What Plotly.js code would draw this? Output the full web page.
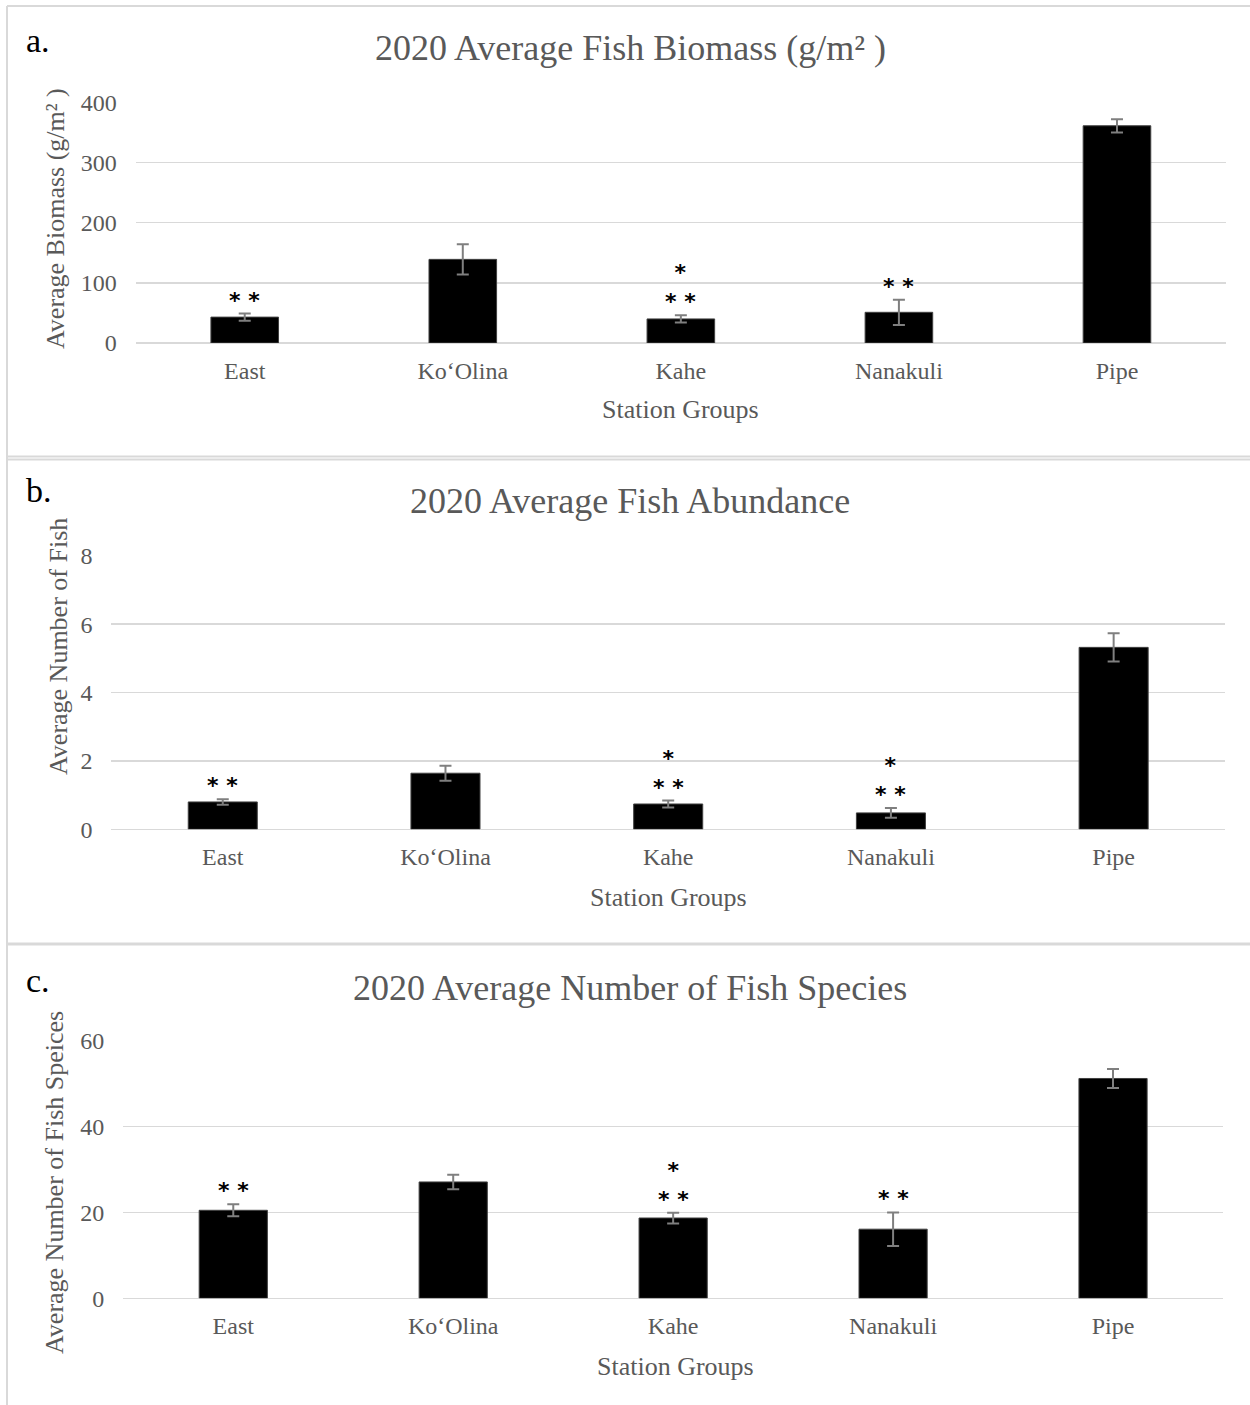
<!DOCTYPE html>
<html><head><meta charset="utf-8">
<script src="https://cdn.plot.ly/plotly-3.0.1.min.js"></script>
<style>html,body{margin:0;padding:0;background:#fff}#chart{width:1250px;height:1405px}</style>
</head><body><div id="chart"></div>
<script>
// ---- data ----
const categories = ['East', 'Ko‘Olina', 'Kahe', 'Nanakuli', 'Pipe'];

const biomassMean = [43, 139, 40, 51, 361];
const biomassErr  = [6, 25, 6, 21, 11];
const biomassSig  = ['* *', '', '*<br>* *', '* *', ''];

const abundanceMean = [0.80, 1.64, 0.74, 0.48, 5.32];
const abundanceErr  = [0.08, 0.22, 0.10, 0.145, 0.41];
const abundanceSig  = ['* *', '', '*<br>* *', '*<br>* *', ''];

const speciesMean = [20.5, 27.1, 18.7, 16.1, 51.2];
const speciesErr  = [1.4, 1.7, 1.25, 3.9, 2.2];
const speciesSig  = ['* *', '', '*<br>* *', '* *', ''];

const panelTitles = ['2020 Average Fish Biomass (g/m² )', '2020 Average Fish Abundance', '2020 Average Number of Fish Species'];
const panelLetters = ['a.', 'b.', 'c.'];
const yTitles = ['Average Biomass (g/m² )', 'Average Number of Fish', 'Average Number of Fish Speices'];
const xTitle = 'Station Groups';
const yTicks = [[0, 100, 200, 300, 400], [0, 2, 4, 6, 8], [0, 20, 40, 60]];

// ---- layout helpers ----
const W = 1250, H = 1405;
const px = v => v / W;
const py = v => 1 - v / H;
const SERIF = '"Liberation Serif", "Times New Roman", Times, serif';
const STAR_FONT = '"DejaVu Sans", sans-serif';
const GREY = '#595959';
const GRID = '#d9d9d9';

const panels = [
  {mean: biomassMean, err: biomassErr, sig: biomassSig,
   x0: 135.7, x1: 1226, yTop: 102.3, yBot: 343, title: [630, 48], letter: [38, 40], ytitle: [55, 219], xtitle: [680, 410]},
  {mean: abundanceMean, err: abundanceErr, sig: abundanceSig,
   x0: 111.4, x1: 1225, yTop: 555.7, yBot: 829.3, title: [630, 501], letter: [39, 490], ytitle: [58, 647], xtitle: [668, 897]},
  {mean: speciesMean, err: speciesErr, sig: speciesSig,
   x0: 123.3, x1: 1223, yTop: 1040.7, yBot: 1298.3, title: [630, 988], letter: [38, 980], ytitle: [54, 1183], xtitle: [675, 1366]}
];

const traces = [];
const layout = {
  width: W, height: H,
  margin: {l: 0, r: 0, t: 0, b: 0},
  paper_bgcolor: '#ffffff', plot_bgcolor: '#ffffff',
  showlegend: false,
  bargap: 0.69,
  font: {family: SERIF, color: GREY},
  annotations: [],
  shapes: []
};

panels.forEach((p, i) => {
  const sfx = i === 0 ? '' : String(i + 1);
  const xa = 'x' + sfx, ya = 'y' + sfx;
  traces.push({
    type: 'bar', x: categories, y: p.mean, xaxis: xa, yaxis: ya,
    marker: {color: '#000000', line: {color: '#404040', width: 1}},
    error_y: {type: 'data', array: p.err, visible: true, color: '#7f7f7f', thickness: 2, width: 6},
    hoverinfo: 'x+y'
  });
  const ticks = yTicks[i];
  layout['xaxis' + sfx] = {
    domain: [px(p.x0), px(p.x1)], anchor: ya,
    showgrid: false, zeroline: false, showline: false, ticks: '',
    tickfont: {family: SERIF, size: 24, color: GREY},
    ticklabelstandoff: 11
  };
  layout['yaxis' + sfx] = {
    domain: [py(p.yBot), py(p.yTop)], anchor: xa,
    range: [ticks[0], ticks[ticks.length - 1]],
    tickvals: ticks,
    showgrid: true, gridcolor: GRID, gridwidth: 1.5,
    zeroline: true, zerolinecolor: GRID, zerolinewidth: 1.5,
    showline: false, ticks: '',
    tickfont: {family: SERIF, size: 24, color: GREY},
    ticklabelstandoff: 18
  };
  layout.annotations.push({xref: 'paper', yref: 'paper', x: px(p.title[0]), y: py(p.title[1]),
    xanchor: 'center', yanchor: 'middle', showarrow: false, text: panelTitles[i],
    font: {family: SERIF, size: 36, color: GREY}});
  layout.annotations.push({xref: 'paper', yref: 'paper', x: px(p.letter[0]), y: py(p.letter[1]),
    xanchor: 'center', yanchor: 'middle', showarrow: false, text: panelLetters[i],
    font: {family: SERIF, size: 34, color: '#000000'}});
  layout.annotations.push({xref: 'paper', yref: 'paper', x: px(p.ytitle[0]), y: py(p.ytitle[1]),
    xanchor: 'center', yanchor: 'middle', showarrow: false, textangle: -90, text: yTitles[i],
    font: {family: SERIF, size: 26, color: GREY}});
  layout.annotations.push({xref: 'paper', yref: 'paper', x: px(p.xtitle[0]), y: py(p.xtitle[1]),
    xanchor: 'center', yanchor: 'middle', showarrow: false, text: xTitle,
    font: {family: SERIF, size: 26, color: GREY}});
  categories.forEach((c, j) => {
    if (p.sig[j]) {
      layout.annotations.push({xref: xa, yref: ya, x: c, y: p.mean[j] + p.err[j],
        xanchor: 'center', yanchor: 'bottom', showarrow: false,
        text: '<b>' + p.sig[j] + '</b>', yshift: -1,
        font: {family: STAR_FONT, size: 22, color: '#000000'}});
    }
  });
});

const frame = {type: 'line', xref: 'paper', yref: 'paper', line: {color: GRID, width: 2}};
layout.shapes.push(Object.assign({}, frame, {x0: px(7), x1: 1, y0: py(6), y1: py(6)}));
layout.shapes.push(Object.assign({}, frame, {x0: px(7), x1: px(7), y0: py(6), y1: 0}));
layout.shapes.push(Object.assign({}, frame, {x0: px(7), x1: 1, y0: py(456.5), y1: py(456.5)}));
layout.shapes.push(Object.assign({}, frame, {x0: px(7), x1: 1, y0: py(459.5), y1: py(459.5)}));
layout.shapes.push(Object.assign({}, frame, {x0: px(7), x1: 1, y0: py(944), y1: py(944), line: {color: GRID, width: 3}}));

Plotly.newPlot('chart', traces, layout, {displayModeBar: false, staticPlot: true});
</script>
</body></html>
